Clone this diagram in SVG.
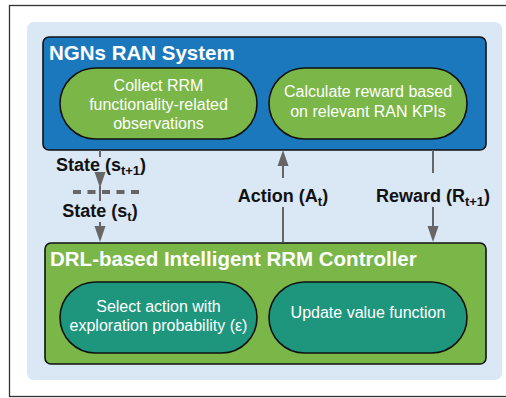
<svg xmlns="http://www.w3.org/2000/svg" width="506" height="398" viewBox="0 0 506 398">
<defs>
<style>
.frame{fill:#ffffff;stroke:#333333;stroke-width:1.3}
.bg{fill:#dae7f5}
.sys{fill:#1b78bd;stroke:#111111;stroke-width:1.6}
.ctl{fill:#7ab648;stroke:#111111;stroke-width:1.6}
.pillg{fill:#7ab648;stroke:#111111;stroke-width:1.6}
.pillt{fill:#1e967d;stroke:#111111;stroke-width:1.6}
.title{font-family:"Liberation Sans",Arial,sans-serif;font-weight:bold;font-size:20.5px;fill:#ffffff}
.ptext{font-family:"Liberation Sans",Arial,sans-serif;font-size:16px;fill:#ffffff;text-anchor:middle}
.lbl{font-family:"Liberation Sans",Arial,sans-serif;font-weight:bold;font-size:18px;fill:#111111;text-anchor:middle}
.sub{font-size:13px}
.conn{stroke:#666666;stroke-width:2;fill:none}
.dash{stroke:#666666;stroke-width:4;fill:none;stroke-dasharray:8 6.5}
</style>
<marker id="ah" markerUnits="userSpaceOnUse" markerWidth="16" markerHeight="12" refX="13" refY="6" orient="auto">
<path d="M0,0.5 L16,6 L0,11.5 z" fill="#666666"/>
</marker>
</defs>
<rect class="frame" x="9.5" y="5.5" width="510" height="391"/>
<rect class="bg" x="27" y="22" width="475" height="358" rx="7"/>

<g id="ngns-ran-system">
<rect class="sys" x="43" y="37" width="443" height="113" rx="6"/>
<text class="title" x="49" y="60">NGNs RAN System</text>
</g>
<g id="collect-rrm">
<rect class="pillg" x="60" y="68" width="197" height="71" rx="35.5"/>
<text class="ptext" x="158.5" y="91">Collect RRM</text>
<text class="ptext" x="158.5" y="110">functionality-related</text>
<text class="ptext" x="158.5" y="129">observations</text>
</g>
<g id="calculate-reward">
<rect class="pillg" x="269" y="68" width="198" height="71" rx="35.5"/>
<text class="ptext" x="368" y="97">Calculate reward based</text>
<text class="ptext" x="368" y="117">on relevant RAN KPIs</text>
</g>

<g id="drl-controller">
<rect class="ctl" x="45" y="243" width="441" height="121" rx="6"/>
<text class="title" x="50" y="266">DRL-based Intelligent RRM Controller</text>
</g>
<g id="select-action">
<rect class="pillt" x="60" y="282" width="197" height="71" rx="35.5"/>
<text class="ptext" x="158.5" y="312">Select action with</text>
<text class="ptext" x="158.5" y="331">exploration probability (ε)</text>
</g>
<g id="update-value">
<rect class="pillt" x="269" y="282" width="198" height="71" rx="35.5"/>
<text class="ptext" x="368" y="318">Update value function</text>
</g>

<g id="connectors">
<line class="conn" x1="100" y1="150" x2="100" y2="157"/>
<line class="conn" x1="100" y1="176" x2="100" y2="185" marker-end="url(#ah)"/>
<line class="conn" x1="100" y1="186" x2="100" y2="201"/>
<line class="dash" x1="73" y1="192" x2="143" y2="192"/>
<line class="conn" x1="100" y1="222" x2="100" y2="239" marker-end="url(#ah)"/>
<text class="lbl" x="101" y="171">State (s<tspan class="sub" dy="4">t+1</tspan><tspan dy="-4">)</tspan></text>
<text class="lbl" x="100" y="217">State (s<tspan class="sub" dy="4">t</tspan><tspan dy="-4">)</tspan></text>

<line class="conn" x1="283" y1="242" x2="283" y2="207"/>
<line class="conn" x1="283" y1="178" x2="283" y2="153" marker-end="url(#ah)"/>
<text class="lbl" x="283" y="202">Action (A<tspan class="sub" dy="4">t</tspan><tspan dy="-4">)</tspan></text>

<line class="conn" x1="433" y1="150" x2="433" y2="173"/>
<line class="conn" x1="433" y1="207" x2="433" y2="239" marker-end="url(#ah)"/>
<text class="lbl" x="433" y="202">Reward (R<tspan class="sub" dy="4">t+1</tspan><tspan dy="-4">)</tspan></text>
</g>
</svg>
